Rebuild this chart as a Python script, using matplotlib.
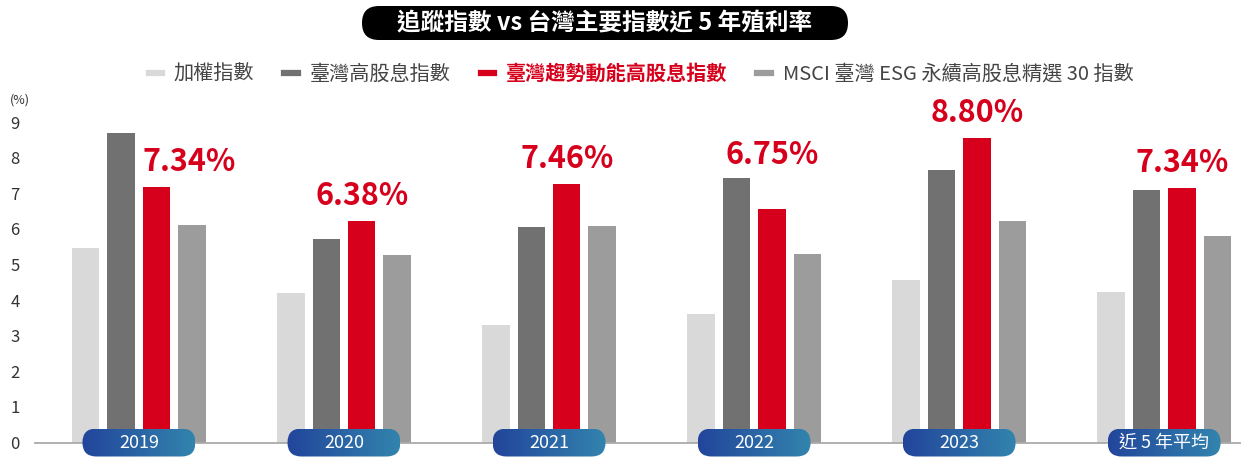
import numpy as np
import matplotlib.pyplot as plt
from matplotlib.patches import FancyBboxPatch
from matplotlib.lines import Line2D
from matplotlib.colors import LinearSegmentedColormap

plt.rcParams['font.family'] = ['Noto Sans CJK TC', 'DejaVu Sans']

# data
groups = ['2019', '2020', '2021', '2022', '2023', '近 5 年平均']
series_names = ['加權指數', '臺灣高股息指數', '臺灣趨勢動能高股息指數',
                'MSCI 臺灣 ESG 永續高股息精選 30 指數']
taiex = [5.46, 4.21, 3.30, 3.62, 4.56, 4.24]
high_div = [8.69, 5.71, 6.04, 7.44, 7.65, 7.10]
momentum = [7.17, 6.23, 7.25, 6.57, 8.56, 7.16]
msci_esg = [6.11, 5.27, 6.08, 5.29, 6.23, 5.80]
momentum_labels = ['7.34%', '6.38%', '7.46%', '6.75%', '8.80%', '7.34%']
title = '追蹤指數 vs 台灣主要指數近 5 年殖利率'

colors = ['#d9d9d9', '#727171', '#d6001c', '#9c9c9c']
red = '#d6001c'

W, H = 1247, 461
fig = plt.figure(figsize=(W / 100, H / 100), dpi=100)

# main axes: x from 35px to 1240px, y=0 at 442.5px, 35.6px per unit
ymax = 9.6
top_px = 442.5 - ymax * 35.6
ax = fig.add_axes([35 / W, (H - 442.5) / H, 1205 / W, (442.5 - top_px) / H])

x = np.arange(len(groups))
bw = 0.134
step = 0.173
all_series = [taiex, high_div, momentum, msci_esg]
for k, vals in enumerate(all_series):
    ax.bar(x + (k - 1.5) * step, vals, width=bw, color=colors[k], zorder=2)

ax.set_xlim(-0.507, 5.37)
ax.set_ylim(0, ymax)
ax.set_yticks(range(0, 10))
ax.set_xticks([])
for s in ['top', 'right', 'left']:
    ax.spines[s].set_visible(False)
ax.spines['bottom'].set_color('#aaaaaa')
ax.spines['bottom'].set_linewidth(1.3)
ax.tick_params(axis='y', length=0, pad=11, labelsize=12, labelcolor='#333333')

# red value labels
gap = 0.45
for i, lab in enumerate(momentum_labels):
    xr = x[i] + 0.5 * step
    if high_div[i] > momentum[i] + 1.0:
        # taller neighbour: start at the red bar's left edge
        ax.text(xr - bw / 2, momentum[i] + gap, lab, ha='left', va='baseline',
                color=red, fontsize=22, fontweight='bold')
    else:
        base = max(momentum[i], high_div[i])
        g = gap if base == momentum[i] else 0.37
        ax.text(xr, base + g, lab, ha='center', va='baseline',
                color=red, fontsize=22, fontweight='bold')

fig.text(10 / W, 1 - 100 / H, '(%)', ha='left', va='center', fontsize=9, color='#333333')

# overlay in pixel coordinates
ov = fig.add_axes([0, 0, 1, 1], zorder=5)
ov.axis('off')

# title pill
tp = FancyBboxPatch((362, 6), 486, 34, boxstyle='round,pad=0,rounding_size=17',
                    facecolor='black', edgecolor='none')
ov.add_patch(tp)
ov.text(605, 23.5, title, ha='center', va='center', color='white',
        fontsize=17, fontweight='bold')

# year pills with gradient
cmap = LinearSegmentedColormap.from_list('pill', ['#22459b', '#3284ae'])
grad = np.linspace(0, 1, 256).reshape(1, -1)
pw, ph = 113, 28
for i, g in enumerate(groups):
    cx, cy = ax.transData.transform((x[i], 0))
    cy = H - cy
    x0, y0 = cx - pw / 2, cy - ph / 2
    patch = FancyBboxPatch((x0, y0), pw, ph, boxstyle='round,pad=0,rounding_size=14',
                           facecolor='none', edgecolor='none')
    ov.add_patch(patch)
    im = ov.imshow(grad, extent=[x0, x0 + pw, y0 + ph, y0], cmap=cmap, aspect='auto')
    im.set_clip_path(patch)
    ov.text(cx, cy + 0.5, g, ha='center', va='center', color='white', fontsize=13)

ov.set_xlim(0, W)
ov.set_ylim(H, 0)

# legend
handles = [Line2D([0], [0], color=c, lw=4.5) for c in colors]
leg = fig.legend(handles, series_names, loc='center', bbox_to_anchor=(641 / W, 1 - 74 / H),
                 ncol=4, frameon=False, handlelength=0.65, handletextpad=0.6,
                 columnspacing=1.5, fontsize=14.5)
for t in leg.get_texts():
    t.set_color('#444444')
leg.get_texts()[2].set_color(red)
leg.get_texts()[2].set_fontweight('bold')

fig.savefig('out.png', dpi=100)
